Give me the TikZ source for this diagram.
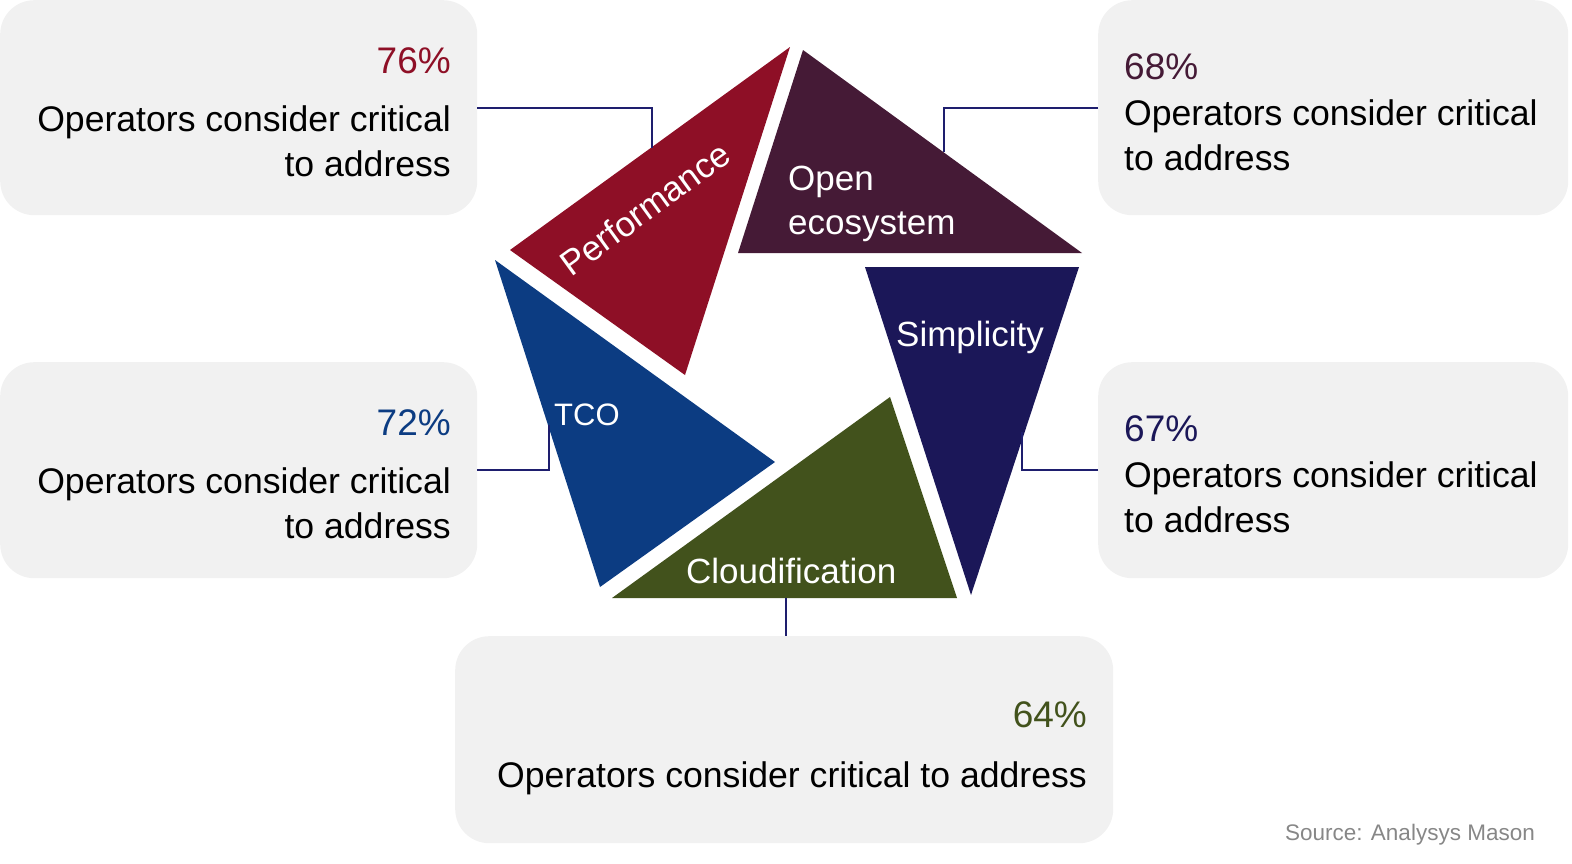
\documentclass[tikz,border=0pt]{standalone}
\usepackage{fontspec}
\setmainfont{Liberation Sans}
\definecolor{cred}{RGB}{142,15,38}
\definecolor{cpur}{RGB}{69,26,54}
\definecolor{cnavy}{RGB}{27,23,88}
\definecolor{cgreen}{RGB}{66,82,28}
\definecolor{cblue}{RGB}{12,60,130}
\definecolor{boxgray}{RGB}{241,241,241}
\definecolor{conncol}{RGB}{30,30,110}
\definecolor{srcgray}{RGB}{135,135,135}
\tikzset{
  box/.style={fill=boxgray, rounded corners=34pt, inner sep=0pt, anchor=north west},
  conn/.style={draw=conncol, line width=2pt},
  body/.style={font=\fontsize{35.6}{42}\selectfont, inner sep=0pt, text=black},
  pct/.style={font=\fontsize{37}{44}\selectfont, inner sep=0pt},
  tri/.style={font=\fontsize{35}{42}\selectfont, inner sep=0pt, text=white},
}
\begin{document}
\begin{tikzpicture}[x=1pt,y=-1pt]
\useasboundingbox (0,0) rectangle (1572,863);
% boxes
\node[box, minimum width=477pt, minimum height=215pt] (b1) at (0,0) {};
\node[box, minimum width=470pt, minimum height=215pt] (b2) at (1098,0) {};
\node[box, minimum width=477pt, minimum height=216pt] (b3) at (0,362) {};
\node[box, minimum width=470pt, minimum height=216pt] (b4) at (1098,362) {};
\node[box, minimum width=658pt, minimum height=207pt] (b5) at (455,636) {};
% triangles
\coordinate (p1) at (790,47); \coordinate (p2) at (510,250); \coordinate (p3) at (685,375);
\coordinate (o1) at (803,50); \coordinate (o2) at (738,253); \coordinate (o3) at (1082,253);
\coordinate (s1) at (865,267); \coordinate (s2) at (1079,267); \coordinate (s3) at (971,595);
\coordinate (g1) at (890,397); \coordinate (g2) at (612,598); \coordinate (g3) at (957,598);
\coordinate (t1) at (495,260); \coordinate (t2) at (775,462); \coordinate (t3) at (600,587);
\fill[cred] (p1) -- (p2) -- (p3) -- cycle;
\fill[cpur] (o1) -- (o2) -- (o3) -- cycle;
\fill[cnavy] (s1) -- (s2) -- (s3) -- cycle;
\fill[cgreen] (g1) -- (g2) -- (g3) -- cycle;
\fill[cblue] (t1) -- (t2) -- (t3) -- cycle;
% connector ends
\coordinate (c1) at (652,148);
\coordinate (c2) at (944,152);
\coordinate (c3) at (549,425);
\coordinate (c4) at (1022,432);
\coordinate (c5) at (786,598);
\draw[conn] (b1.east) -| (c1);
\draw[conn] (b2.west) -| (c2);
\draw[conn] (b3.east) -| (c3);
\draw[conn] (b4.west) -| (c4);
\draw[conn] (c5) -- (c5 |- b5.north);
% triangle labels
\node[tri, rotate=36] (lperf) at (645,209) {Performance};
\node[tri, anchor=base west] (lopen) at (788,190) {Open};
\node[tri, anchor=base west] (leco) at (788,234) {ecosystem};
\node[tri, anchor=base west] (lsimp) at (896,346) {Simplicity};
\node[tri, anchor=base west, font=\fontsize{31}{38}\selectfont] (ltco) at (554,425) {TCO};
\node[tri, anchor=base west] (lcloud) at (686,583) {Cloudification};
% box texts
\node[pct, text=cred, anchor=base east] (t1a) at (451,73) {76\%};
\node[body, anchor=base east] (t1b) at (451,131) {Operators consider critical};
\node[body, anchor=base east] (t1c) at (451,176) {to address};
\node[pct, text=cpur, anchor=base west] (t2a) at (1124,79) {68\%};
\node[body, anchor=base west] (t2b) at (1124,125) {Operators consider critical};
\node[body, anchor=base west] (t2c) at (1124,170) {to address};
\node[pct, text=cblue, anchor=base east] (t3a) at (451,435) {72\%};
\node[body, anchor=base east] (t3b) at (451,493) {Operators consider critical};
\node[body, anchor=base east] (t3c) at (451,538) {to address};
\node[pct, text=cnavy, anchor=base west] (t4a) at (1124,441) {67\%};
\node[body, anchor=base west] (t4b) at (1124,487) {Operators consider critical};
\node[body, anchor=base west] (t4c) at (1124,532) {to address};
\node[pct, text=cgreen, anchor=base east] (t5a) at (1087,727) {64\%};
\node[body, anchor=base east] (t5b) at (1087,787) {Operators consider critical to address};
\node[inner sep=0pt, anchor=base east, text=srcgray, font=\fontsize{22.5}{27}\selectfont] (src) at (1535,840) {Source: Analysys Mason};
\end{tikzpicture}
\end{document}
